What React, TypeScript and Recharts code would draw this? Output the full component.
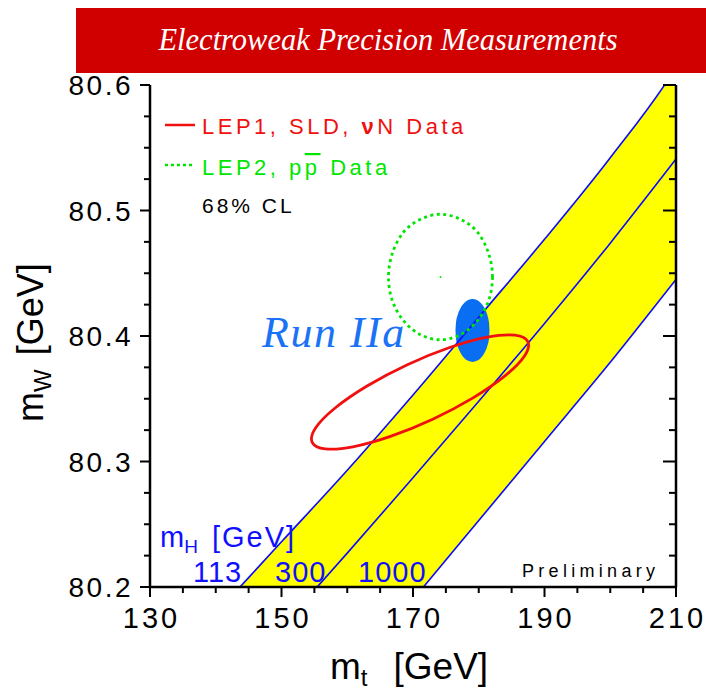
import React from 'react';
import { ComposedChart, XAxis, YAxis, Area, Line, Scatter } from 'recharts';

// axis ticks
const xTicks = [130, 135, 140, 145, 150, 155, 160, 165, 170, 175, 180, 185, 190, 195, 200, 205, 210];
const xLabels = [130, 150, 170, 190, 210];
const yTicks = [80.2, 80.225, 80.25, 80.275, 80.3, 80.325, 80.35, 80.375, 80.4, 80.425, 80.45, 80.475, 80.5, 80.525, 80.55, 80.575, 80.6];
const yLabels = [80.2, 80.3, 80.4, 80.5, 80.6];

// SM prediction bands for mH = 113, 300, 1000 GeV (mW at given mt)
const bandMt = [140, 150, 160, 170, 180, 190, 200, 210, 215];
const mh113 = [80.179, 80.236, 80.293, 80.353, 80.415, 80.477, 80.542, 80.614, 80.66];
const mh300 = [80.11, 80.168, 80.227, 80.287, 80.348, 80.41, 80.474, 80.541, 80.575];
const mh1000 = [80.008, 80.068, 80.128, 80.19, 80.253, 80.316, 80.379, 80.445, 80.478];

// LEP1, SLD, vN 68% CL contour
const lep1Mt = [187.47, 186.96, 184.03, 179.13, 173.0, 166.57, 160.84, 156.65, 154.67, 155.18, 158.11, 163.01, 169.14, 175.57, 181.3, 185.49];
const lep1Mw = [80.3955, 80.3841, 80.3684, 80.3507, 80.3337, 80.32, 80.3117, 80.3101, 80.3153, 80.3267, 80.3424, 80.3601, 80.3771, 80.3908, 80.3991, 80.4007];

// LEP2, ppbar 68% CL contour
const lep2Mt = [182.09, 181.49, 179.77, 177.21, 174.18, 171.15, 168.59, 166.87, 166.27, 166.87, 168.59, 171.15, 174.18, 177.21, 179.77, 181.49];
const lep2Mw = [80.447, 80.466, 80.483, 80.493, 80.497, 80.493, 80.483, 80.466, 80.447, 80.428, 80.412, 80.401, 80.397, 80.401, 80.412, 80.428];
const lep2Center = { mt: 174.18, mw: 80.447 };

// Run IIa projection
const runMt = [176.46, 176.548, 176.807, 177.219, 177.755, 178.38, 179.05, 179.72, 180.345, 180.881, 181.293, 181.552, 181.64];
const runLow = [80.4044, 80.3979, 80.3919, 80.3867, 80.3827, 80.3802, 80.3793, 80.3802, 80.3827, 80.3867, 80.3919, 80.3979, 80.4044];
const runHigh = [80.4044, 80.4109, 80.417, 80.4222, 80.4261, 80.4286, 80.4295, 80.4286, 80.4261, 80.4222, 80.417, 80.4109, 80.4044];

const bandData = bandMt.map((mt, i) => ({ mt, band: [mh1000[i], mh113[i]], a: mh113[i], b: mh300[i], c: mh1000[i] }));
const lep1Data = lep1Mt.map((mt, i) => ({ mt, mw: lep1Mw[i] }));
const lep2Data = lep2Mt.map((mt, i) => ({ mt, mw: lep2Mw[i] }));
const runData = runMt.map((mt, i) => ({ mt, range: [runLow[i], runHigh[i]] }));

const sans = '"Liberation Sans", Arial, sans-serif';
const serif = '"Liberation Serif", "Times New Roman", serif';

// closed catmull-rom curve so the contours come back round smoothly
const closedCurve = (context: any) => {
  let pts: number[][] = [];
  return {
    areaStart() {},
    areaEnd() {},
    lineStart() { pts = []; },
    point(x: number, y: number) { pts.push([+x, +y]); },
    lineEnd() {
      const n = pts.length;
      if (n < 3) return;
      context.moveTo(pts[0][0], pts[0][1]);
      for (let i = 0; i < n; i++) {
        const p0 = pts[(i - 1 + n) % n], p1 = pts[i], p2 = pts[(i + 1) % n], p3 = pts[(i + 2) % n];
        context.bezierCurveTo(
          p1[0] + (p2[0] - p0[0]) / 6, p1[1] + (p2[1] - p0[1]) / 6,
          p2[0] - (p3[0] - p1[0]) / 6, p2[1] - (p3[1] - p1[1]) / 6,
          p2[0], p2[1]);
      }
      context.closePath();
    },
  };
};

const isMajor = (v: number, list: number[]) => list.some(l => Math.abs(l - v) < 1e-6);

const BottomTick = ({ x, y, payload }: any) => {
  const major = isMajor(payload.value, xLabels);
  return (
    <g>
      <line x1={x} x2={x} y1={y} y2={y + (major ? 10 : 6)} stroke="#000" strokeWidth={2} />
      {major && (
        <text x={x + 1.5} y={y + 41} textAnchor="middle" fontSize={29} fontFamily={sans} letterSpacing={3} fill="#000">
          {payload.value}
        </text>
      )}
    </g>
  );
};

const TopTick = ({ x, y, payload }: any) => {
  const major = isMajor(payload.value, xLabels);
  return <line x1={x} x2={x} y1={y} y2={y + (major ? 13 : 7)} stroke="#000" strokeWidth={2} />;
};

const LeftTick = ({ x, y, payload }: any) => {
  const major = isMajor(payload.value, yLabels);
  return (
    <g>
      <line x1={x} x2={x - (major ? 10 : 6)} y1={y} y2={y} stroke="#000" strokeWidth={2} />
      {major && (
        <text x={x - 17} y={y + 10} textAnchor="end" fontSize={28} fontFamily={sans} letterSpacing={2.5} fill="#000">
          {payload.value.toFixed(1)}
        </text>
      )}
    </g>
  );
};

const RightTick = ({ x, y, payload }: any) => {
  const major = isMajor(payload.value, yLabels);
  return <line x1={x} x2={x - (major ? 13 : 7)} y1={y} y2={y} stroke="#000" strokeWidth={2} />;
};

const axisLine = { stroke: '#000', strokeWidth: 2.5 };

export default function App() {
  return (
    <div style={{ position: 'relative', width: 698, height: 683 }}>
      <style>{'body { margin: 8px 0 0 8px; }'}</style>
      <div
        style={{
          position: 'absolute', left: 68, top: 0, width: 630, height: 65, background: '#d10000',
          display: 'flex', alignItems: 'center', justifyContent: 'center', paddingRight: 6, boxSizing: 'border-box',
          color: '#fff', fontFamily: serif, fontStyle: 'italic', fontSize: 30.5,
        }}
      >
        Electroweak Precision Measurements
      </div>

      <div style={{ position: 'absolute', left: 0, top: 0 }}>
        <ComposedChart width={698} height={683} margin={{ top: 77, right: 8, bottom: 0, left: 0 }}>
          <XAxis xAxisId="b" type="number" dataKey="mt" domain={[130, 210]} allowDataOverflow ticks={xTicks}
            interval={0} height={104} tickSize={0} tickMargin={0} tickLine={false} tick={BottomTick} axisLine={axisLine} />
          <XAxis xAxisId="t" orientation="top" type="number" dataKey="mt" domain={[130, 210]} allowDataOverflow
            ticks={xTicks} interval={0} height={0} tickSize={0} tickMargin={0} tickLine={false} tick={TopTick} axisLine={axisLine} />
          <YAxis yAxisId="l" type="number" domain={[80.2, 80.6]} allowDataOverflow ticks={yTicks} interval={0}
            width={142} tickSize={0} tickMargin={0} tickLine={false} tick={LeftTick} axisLine={axisLine} />
          <YAxis yAxisId="r" orientation="right" type="number" dataKey="mw" domain={[80.2, 80.6]} allowDataOverflow
            ticks={yTicks} interval={0} width={22} tickSize={0} tickMargin={0} tickLine={false} tick={RightTick} axisLine={axisLine} />

          <Area xAxisId="b" yAxisId="l" data={bandData} dataKey="band" type="monotone" stroke="none"
            fill="#ffff00" fillOpacity={1} isAnimationActive={false} />
          <Line xAxisId="b" yAxisId="l" data={bandData} dataKey="a" type="monotone" stroke="#0a0aff" strokeWidth={1.6}
            dot={false} activeDot={false} isAnimationActive={false} />
          <Line xAxisId="b" yAxisId="l" data={bandData} dataKey="b" type="monotone" stroke="#0a0aff" strokeWidth={1.6}
            dot={false} activeDot={false} isAnimationActive={false} />
          <Line xAxisId="b" yAxisId="l" data={bandData} dataKey="c" type="monotone" stroke="#0a0aff" strokeWidth={1.6}
            dot={false} activeDot={false} isAnimationActive={false} />

          <Line xAxisId="b" yAxisId="l" data={lep2Data} dataKey="mw" type={closedCurve as any} stroke="#00e600"
            strokeWidth={2.8} strokeDasharray="3 3.5" dot={false} activeDot={false} isAnimationActive={false} />
          <Line xAxisId="b" yAxisId="l" data={lep1Data} dataKey="mw" type={closedCurve as any} stroke="#f01010"
            strokeWidth={2.8} dot={false} activeDot={false} isAnimationActive={false} />
          <Area xAxisId="b" yAxisId="l" data={runData} dataKey="range" type="monotone" stroke="none"
            fill="#0a6ef2" fillOpacity={1} isAnimationActive={false} />
          <Scatter xAxisId="t" yAxisId="r" data={[lep2Center]} fill="#00e600" isAnimationActive={false}
            shape={(p: any) => <circle cx={p.cx} cy={p.cy} r={1} fill="#00e600" />} />
        </ComposedChart>
      </div>

      <svg width={698} height={683} style={{ position: 'absolute', left: 0, top: 0, pointerEvents: 'none' }}>
        <line x1={157} x2={187} y1={117} y2={117} stroke="#f01010" strokeWidth={2.5} />
        <text x={194} y={126} fontSize={22} fontFamily={sans} letterSpacing={3.5} fill="#f01010">
          LEP1, SLD, <tspan fontWeight="bold">ν</tspan>N Data
        </text>
        <line x1={157} x2={187} y1={157} y2={157} stroke="#00e600" strokeWidth={2.5} strokeDasharray="3 3" />
        <text x={194} y={167} fontSize={22} fontFamily={sans} letterSpacing={3.5} fill="#00e600">
          LEP2, p<tspan style={{ textDecoration: 'overline' }}>p</tspan> Data
        </text>
        <text x={194} y={205} fontSize={21} fontFamily={sans} letterSpacing={3} fill="#000">68% CL</text>

        <text x={254} y={339} fontSize={44} fontFamily={serif} fontStyle="italic" letterSpacing={1.5} fill="#1a72f5">Run IIa</text>

        <text x={152} y={539} fontSize={29} fontFamily={sans} fill="#1010ff">
          m<tspan fontSize={19} dy={6}>H</tspan><tspan dx={14} dy={-6} letterSpacing={2}>[GeV]</tspan>
        </text>
        <text x={185} y={574} fontSize={29} fontFamily={sans} letterSpacing={1} fill="#1010ff">113</text>
        <text x={267} y={574} fontSize={29} fontFamily={sans} letterSpacing={1} fill="#1010ff">300</text>
        <text x={350} y={574} fontSize={29} fontFamily={sans} letterSpacing={1} fill="#1010ff">1000</text>
        <text x={514} y={569} fontSize={18} fontFamily={sans} letterSpacing={4.3} fill="#000">Preliminary</text>

        <text x={322} y={671} fontSize={37} fontFamily={sans} fill="#000">
          m<tspan fontSize={24} dy={7}>t</tspan><tspan dx={26} dy={-7}>[GeV]</tspan>
        </text>
        <text transform="translate(35,414) rotate(-90)" fontSize={36} fontFamily={sans} fill="#000">
          m<tspan fontSize={24} dy={8}>W</tspan><tspan dx={14} dy={-8}>[GeV]</tspan>
        </text>
      </svg>
    </div>
  );
}
